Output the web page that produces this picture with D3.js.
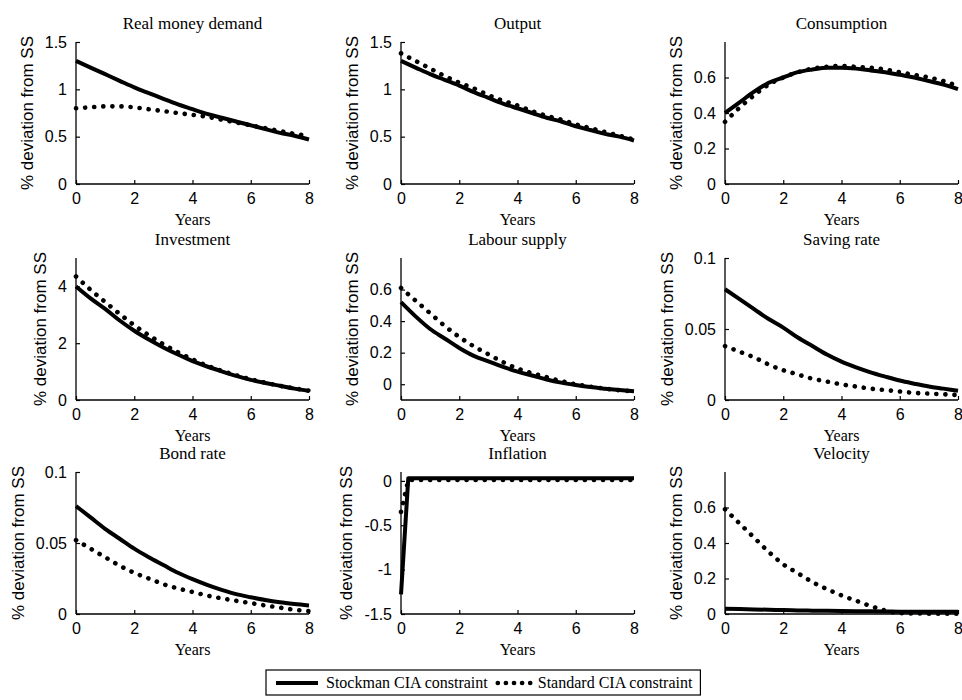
<!DOCTYPE html>
<html>
<head>
<meta charset="utf-8">
<script src="https://cdn.jsdelivr.net/npm/d3@7"></script>
<style>
  html, body { margin: 0; padding: 0; background: #fff; }
  svg { display: block; }
</style>
</head>
<body>
<svg id="chart" width="962" height="700"></svg>
<script>
// ---------------- DATA ----------------
const years = [0, 0.5, 1, 1.5, 2, 2.5, 3, 3.5, 4, 4.5, 5, 5.5, 6, 6.5, 7, 7.5, 8];
const inflationYears = [0, 0.25, 0.5, 1, 2, 3, 4, 5, 6, 7, 8];
const xTicks = [0, 2, 4, 6, 8];
const seriesNames = ["Stockman CIA constraint", "Standard CIA constraint"];
const panelTitles = ["Real money demand", "Output", "Consumption",
                     "Investment", "Labour supply", "Saving rate",
                     "Bond rate", "Inflation", "Velocity"];
const xLabel = "Years";
const yLabel = "% deviation from SS";

const stockmanRealMoney = [1.30, 1.23, 1.16, 1.09, 1.02, 0.96, 0.90, 0.84, 0.79, 0.74, 0.70, 0.66, 0.62, 0.58, 0.54, 0.51, 0.47];
const standardRealMoney = [0.80, 0.81, 0.82, 0.82, 0.81, 0.79, 0.77, 0.75, 0.73, 0.71, 0.68, 0.65, 0.62, 0.59, 0.56, 0.53, 0.51];

const stockmanOutput = [1.30, 1.23, 1.16, 1.10, 1.04, 0.97, 0.91, 0.85, 0.80, 0.75, 0.70, 0.66, 0.61, 0.57, 0.53, 0.50, 0.46];
const standardOutput = [1.38, 1.30, 1.22, 1.14, 1.07, 1.01, 0.94, 0.88, 0.83, 0.77, 0.72, 0.68, 0.63, 0.59, 0.55, 0.51, 0.47];

const stockmanConsumption = [0.40, 0.46, 0.52, 0.57, 0.60, 0.63, 0.645, 0.655, 0.655, 0.65, 0.64, 0.63, 0.615, 0.60, 0.58, 0.56, 0.535];
const standardConsumption = [0.35, 0.43, 0.50, 0.56, 0.60, 0.63, 0.65, 0.66, 0.665, 0.66, 0.655, 0.645, 0.63, 0.615, 0.60, 0.58, 0.55];

const stockmanInvestment = [4.00, 3.58, 3.21, 2.80, 2.44, 2.13, 1.85, 1.60, 1.37, 1.18, 1.01, 0.85, 0.71, 0.60, 0.50, 0.40, 0.32];
const standardInvestment = [4.35, 3.88, 3.45, 3.03, 2.63, 2.28, 1.96, 1.68, 1.43, 1.21, 1.03, 0.87, 0.73, 0.61, 0.50, 0.41, 0.33];

const stockmanLabour = [0.52, 0.43, 0.35, 0.29, 0.23, 0.18, 0.145, 0.11, 0.08, 0.055, 0.03, 0.01, -0.005, -0.018, -0.028, -0.037, -0.045];
const standardLabour = [0.61, 0.53, 0.45, 0.37, 0.30, 0.24, 0.19, 0.14, 0.10, 0.07, 0.045, 0.02, 0.0, -0.015, -0.028, -0.038, -0.045];

const stockmanSaving = [0.078, 0.071, 0.064, 0.057, 0.051, 0.044, 0.038, 0.032, 0.027, 0.023, 0.0195, 0.0165, 0.0137, 0.0115, 0.0095, 0.008, 0.0065];
const standardSaving = [0.038, 0.034, 0.030, 0.025, 0.021, 0.018, 0.015, 0.013, 0.011, 0.0095, 0.008, 0.007, 0.006, 0.005, 0.0045, 0.004, 0.0035];

const stockmanBond = [0.076, 0.068, 0.060, 0.053, 0.046, 0.040, 0.0345, 0.029, 0.0245, 0.0205, 0.017, 0.014, 0.0118, 0.0098, 0.0082, 0.007, 0.006];
const standardBond = [0.052, 0.046, 0.040, 0.034, 0.029, 0.025, 0.021, 0.018, 0.0155, 0.013, 0.011, 0.0093, 0.0077, 0.006, 0.0045, 0.003, 0.002];

const stockmanInflation = [-1.28, 0.03, 0.03, 0.03, 0.03, 0.03, 0.03, 0.03, 0.03, 0.03, 0.03];
const standardInflation = [-0.35, 0.01, 0.01, 0.01, 0.01, 0.01, 0.01, 0.01, 0.01, 0.01, 0.01];

const stockmanVelocity = [0.030, 0.028, 0.026, 0.024, 0.022, 0.020, 0.019, 0.018, 0.017, 0.016, 0.015, 0.014, 0.013, 0.013, 0.012, 0.012, 0.012];
const standardVelocity = [0.59, 0.51, 0.43, 0.35, 0.28, 0.23, 0.18, 0.14, 0.105, 0.075, 0.045, 0.02, 0.005, 0.003, 0.002, 0.002, 0.002];

const yDomains = [[0, 1.5], [0, 1.5], [0, 0.8],
                  [0, 5], [-0.1, 0.8], [0, 0.1],
                  [0, 0.1], [-1.5, 0.1], [0, 0.8]];
const yTickValues = [[0, 0.5, 1, 1.5], [0, 0.5, 1, 1.5], [0, 0.2, 0.4, 0.6],
                     [0, 2, 4], [0, 0.2, 0.4, 0.6], [0, 0.05, 0.1],
                     [0, 0.05, 0.1], [-1.5, -1, -0.5, 0], [0, 0.2, 0.4, 0.6]];

const panelX = [years, years, years, years, years, years, years, inflationYears, years];
const panelSolid = [stockmanRealMoney, stockmanOutput, stockmanConsumption, stockmanInvestment,
                    stockmanLabour, stockmanSaving, stockmanBond, stockmanInflation, stockmanVelocity];
const panelDotted = [standardRealMoney, standardOutput, standardConsumption, standardInvestment,
                     standardLabour, standardSaving, standardBond, standardInflation, standardVelocity];

// ---------------- LAYOUT ----------------
const colLeft = [76, 401, 725];
const plotW = 233;
const rowTop = [42, 258, 472];
const plotH = 142;
const serif = "'Liberation Serif', 'Times New Roman', serif";
const sans = "'Liberation Sans', Arial, sans-serif";

const svg = d3.select("#chart");

panelTitles.forEach((title, i) => {
  const col = i % 3, row = Math.floor(i / 3);
  const x0 = colLeft[col], y0 = rowTop[row];
  const g = svg.append("g").attr("transform", `translate(${x0},${y0})`);

  const x = d3.scaleLinear().domain([0, 8]).range([0, plotW]);
  const y = d3.scaleLinear().domain(yDomains[i]).range([plotH, 0]);

  // lines
  const xs = panelX[i];
  const curve = (i === 7) ? d3.curveLinear : d3.curveMonotoneX;
  const line = d3.line().x((d, k) => x(xs[k])).y(d => y(d)).curve(curve);

  g.append("path").datum(panelDotted[i])
    .attr("d", line).attr("fill", "none").attr("stroke", "#000")
    .attr("stroke-width", 4.6).attr("stroke-linecap", "round")
    .attr("stroke-dasharray", "0.1 9");
  g.append("path").datum(panelSolid[i])
    .attr("d", line).attr("fill", "none").attr("stroke", "#000")
    .attr("stroke-width", 4).attr("stroke-linejoin", "round");

  // axes
  const xAxis = d3.axisBottom(x).tickValues(xTicks).tickSize(-4).tickPadding(8).tickFormat(d3.format("d"));
  const gx = g.append("g").attr("transform", `translate(0,${plotH})`).call(xAxis);
  const yAxis = d3.axisLeft(y).tickValues(yTickValues[i]).tickSize(-4).tickPadding(9).tickFormat(d => String(d));
  const gy = g.append("g").call(yAxis);

  [gx, gy].forEach(a => {
    a.select(".domain").attr("stroke", "#000").attr("stroke-width", 1.3);
    a.selectAll(".tick line").attr("stroke", "#000").attr("stroke-width", 1.2);
    a.selectAll(".tick text").attr("fill", "#000").style("font-family", sans).style("font-size", "16px");
  });
  gx.select(".domain").attr("d", `M0,0H${plotW}`);
  gy.select(".domain").attr("d", `M0,${plotH}V0`);
  gx.selectAll(".tick text").attr("dy", "0.78em");

  // title
  g.append("text").attr("x", plotW / 2).attr("y", -13)
    .attr("text-anchor", "middle").style("font-family", serif).style("font-size", "17px")
    .text(title);
  // x label
  g.append("text").attr("x", plotW / 2).attr("y", plotH + 40.5)
    .attr("text-anchor", "middle").style("font-family", serif).style("font-size", "16px")
    .text(xLabel);
  // y label
  let minX = 0;
  gy.selectAll(".tick text").each(function () {
    minX = Math.min(minX, this.getBBox().x);
  });
  const labX = minX - 18;
  g.append("text")
    .attr("transform", `translate(${labX},${plotH / 2}) rotate(-90)`)
    .attr("text-anchor", "middle").attr("dy", "0.35em")
    .style("font-family", sans).style("font-size", "17px")
    .text(yLabel);
});

// ---------------- LEGEND ----------------
const lg = svg.append("g");
const boxX = 266, boxY = 670, boxH = 25, cy = boxY + boxH / 2 + 0.5;
const box = lg.append("rect").attr("x", boxX).attr("y", boxY).attr("height", boxH)
  .attr("fill", "#fff").attr("stroke", "#000").attr("stroke-width", 1.2);
lg.append("line").attr("x1", boxX + 10).attr("x2", boxX + 52).attr("y1", cy).attr("y2", cy)
  .attr("stroke", "#000").attr("stroke-width", 4);
const t1 = lg.append("text").attr("x", boxX + 60).attr("y", cy + 5)
  .style("font-family", serif).style("font-size", "16px").text(seriesNames[0]);
const t1End = boxX + 60 + t1.node().getComputedTextLength();
lg.append("line").attr("x1", t1End + 10).attr("x2", t1End + 44).attr("y1", cy).attr("y2", cy)
  .attr("stroke", "#000").attr("stroke-width", 4.6).attr("stroke-linecap", "round")
  .attr("stroke-dasharray", "0.1 8");
const t2 = lg.append("text").attr("x", t1End + 50).attr("y", cy + 5)
  .style("font-family", serif).style("font-size", "16px").text(seriesNames[1]);
const t2End = t1End + 50 + t2.node().getComputedTextLength();
box.attr("width", t2End + 8 - boxX);
</script>
</body>
</html>
